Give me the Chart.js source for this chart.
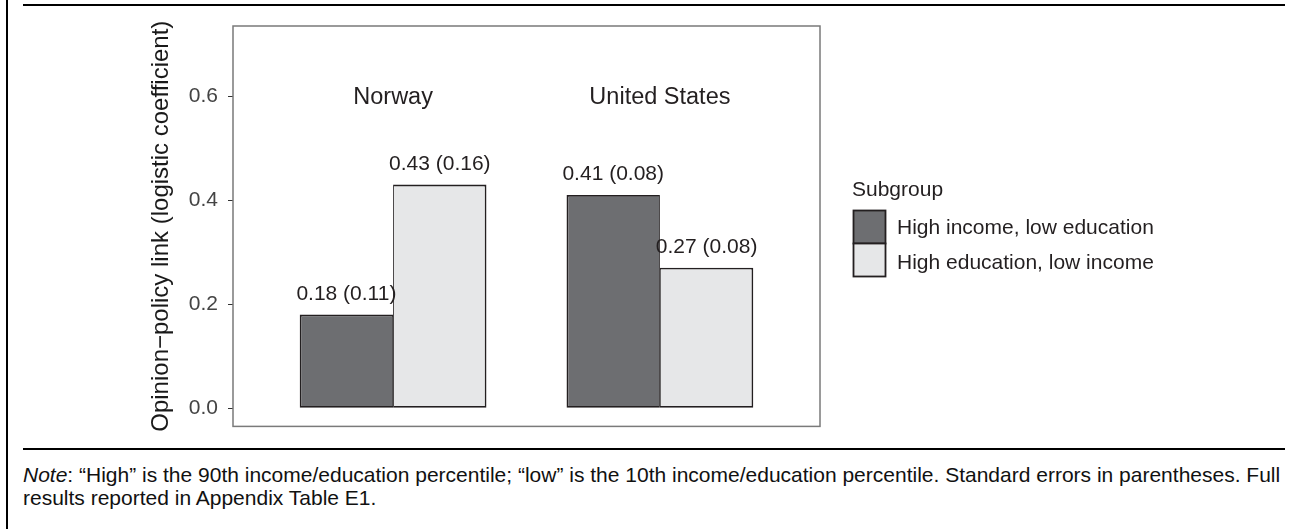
<!DOCTYPE html>
<html><head><meta charset="utf-8">
<script src="https://cdn.jsdelivr.net/npm/chart.js@4.4.1/dist/chart.umd.min.js"></script>
<style>
html,body{margin:0;padding:0;background:#fff;width:1297px;height:529px;overflow:hidden;font-family:"Liberation Sans",Arial,Helvetica,sans-serif;}
#wrap{position:absolute;left:0;top:0;width:1297px;height:449px;}
.vline{position:absolute;left:6px;top:0;width:2px;height:529px;background:#000;}
.hline{position:absolute;left:23px;width:1262px;height:2px;background:#000;}
#note{position:absolute;left:23px;top:463px;width:1274px;font-size:21px;line-height:23px;color:#111;white-space:nowrap;}
</style>
</head><body>
<div class="vline"></div>
<div class="hline" style="top:4px"></div>
<div class="hline" style="top:448px"></div>
<div id="wrap"><canvas id="c" width="1297" height="449"></canvas></div>
<div id="note"><i>Note</i>: “High” is the 90th income/education percentile; “low” is the 10th income/education percentile. Standard errors in parentheses. Full<br>results reported in Appendix Table E1.</div>
<script>
const categories = ['Norway', 'United States'];
const seriesLabels = ['High income, low education', 'High education, low income'];
const highIncomeLowEdu = [0.18, 0.41];
const highIncomeLowEduSE = [0.11, 0.08];
const highEduLowIncome = [0.43, 0.27];
const highEduLowIncomeSE = [0.16, 0.08];
const yTicks = [0.0, 0.2, 0.4, 0.6];
const categoryLabelValue = 0.6;
const legendTitle = 'Subgroup';
const yTitle = 'Opinion\u2212policy link (logistic coefficient)';

const DARK = '#6d6e71', LIGHT = '#e6e7e8', EDGE = '#231f20';
const FONT = '"Liberation Sans", Arial, Helvetica, sans-serif';

const seriesValues = [highIncomeLowEdu, highEduLowIncome];
const seriesSE = [highIncomeLowEduSE, highEduLowIncomeSE];
const fills = [DARK, LIGHT];

const overlay = {
  id: 'overlay',
  beforeDatasetsDraw(chart) {
    const {ctx, chartArea: a} = chart;
    ctx.save();
    ctx.strokeStyle = '#7a7a7a';
    ctx.lineWidth = 1.5;
    ctx.strokeRect(a.left, a.top, a.right - a.left, a.bottom - a.top);
    ctx.restore();
  },
  afterDatasetsDraw(chart) {
    const {ctx} = chart;
    const xs = chart.scales.x, ys = chart.scales.y;
    ctx.save();
    ctx.fillStyle = '#231f20';
    ctx.textAlign = 'center';
    ctx.textBaseline = 'alphabetic';
    ctx.font = '21px ' + FONT;
    chart.data.datasets.forEach((ds, i) => {
      const meta = chart.getDatasetMeta(i);
      meta.data.forEach((bar, j) => {
        const txt = seriesValues[i][j].toFixed(2) + ' (' + seriesSE[i][j].toFixed(2) + ')';
        ctx.fillText(txt, bar.x, bar.y - 15);
      });
    });
    ctx.font = '23.5px ' + FONT;
    categories.forEach((c, j) => {
      ctx.fillText(c, xs.getPixelForValue(j + 1), ys.getPixelForValue(categoryLabelValue) + 8);
    });
    // legend
    ctx.textAlign = 'left';
    ctx.font = '21px ' + FONT;
    ctx.fillText(legendTitle, 852, 196);
    const keyTop = [210.5, 243.5];
    seriesLabels.forEach((lab, i) => {
      ctx.fillStyle = fills[i];
      ctx.fillRect(853.5, keyTop[i], 32, 33);
      ctx.strokeStyle = EDGE;
      ctx.lineWidth = 1.8;
      ctx.strokeRect(853.5, keyTop[i], 32, 33);
      ctx.fillStyle = '#231f20';
      ctx.fillText(lab, 897, 234 + i * 35);
    });
    ctx.restore();
  }
};

new Chart(document.getElementById('c'), {
  type: 'bar',
  data: {
    datasets: seriesValues.map((vals, i) => ({
      label: seriesLabels[i],
      data: categories.map((c, j) => ({x: j + 1, y: vals[j]})),
      backgroundColor: fills[i],
      borderColor: EDGE,
      borderWidth: i === 0 ? {left: 1.8, top: 1.8, bottom: 1.8, right: 0.9} : {left: 0.9, top: 1.8, bottom: 1.8, right: 1.8},
      borderSkipped: false,
      categoryPercentage: 0.7,
      barPercentage: 1.0
    }))
  },
  options: {
    responsive: false,
    maintainAspectRatio: false,
    animation: false,
    devicePixelRatio: 1,
    layout: {padding: {left: 143, right: 477, top: 26, bottom: 19}},
    plugins: {legend: {display: false}, tooltip: {enabled: false}},
    scales: {
      x: {
        type: 'linear', min: 0.4, max: 2.6, display: false, offset: false,
        afterBuildTicks: s => { s.ticks = categories.map((c, j) => ({value: j + 1})); }
      },
      y: {
        type: 'linear', min: -0.035, max: 0.735,
        afterBuildTicks: s => { s.ticks = yTicks.map(v => ({value: v})); },
        afterFit: s => { s.width = 90; },
        ticks: {
          callback: v => Number(v).toFixed(1),
          color: '#444',
          font: {family: FONT, size: 21},
          padding: 10
        },
        grid: {display: true, drawOnChartArea: false, drawTicks: true, tickLength: 5, tickColor: '#333', tickWidth: 1},
        border: {display: false},
        title: {display: true, text: yTitle, color: '#1a1a1a', font: {family: FONT, size: 24}, padding: {top: 4, bottom: 4}}
      }
    }
  },
  plugins: [overlay]
});
</script>
</body></html>
